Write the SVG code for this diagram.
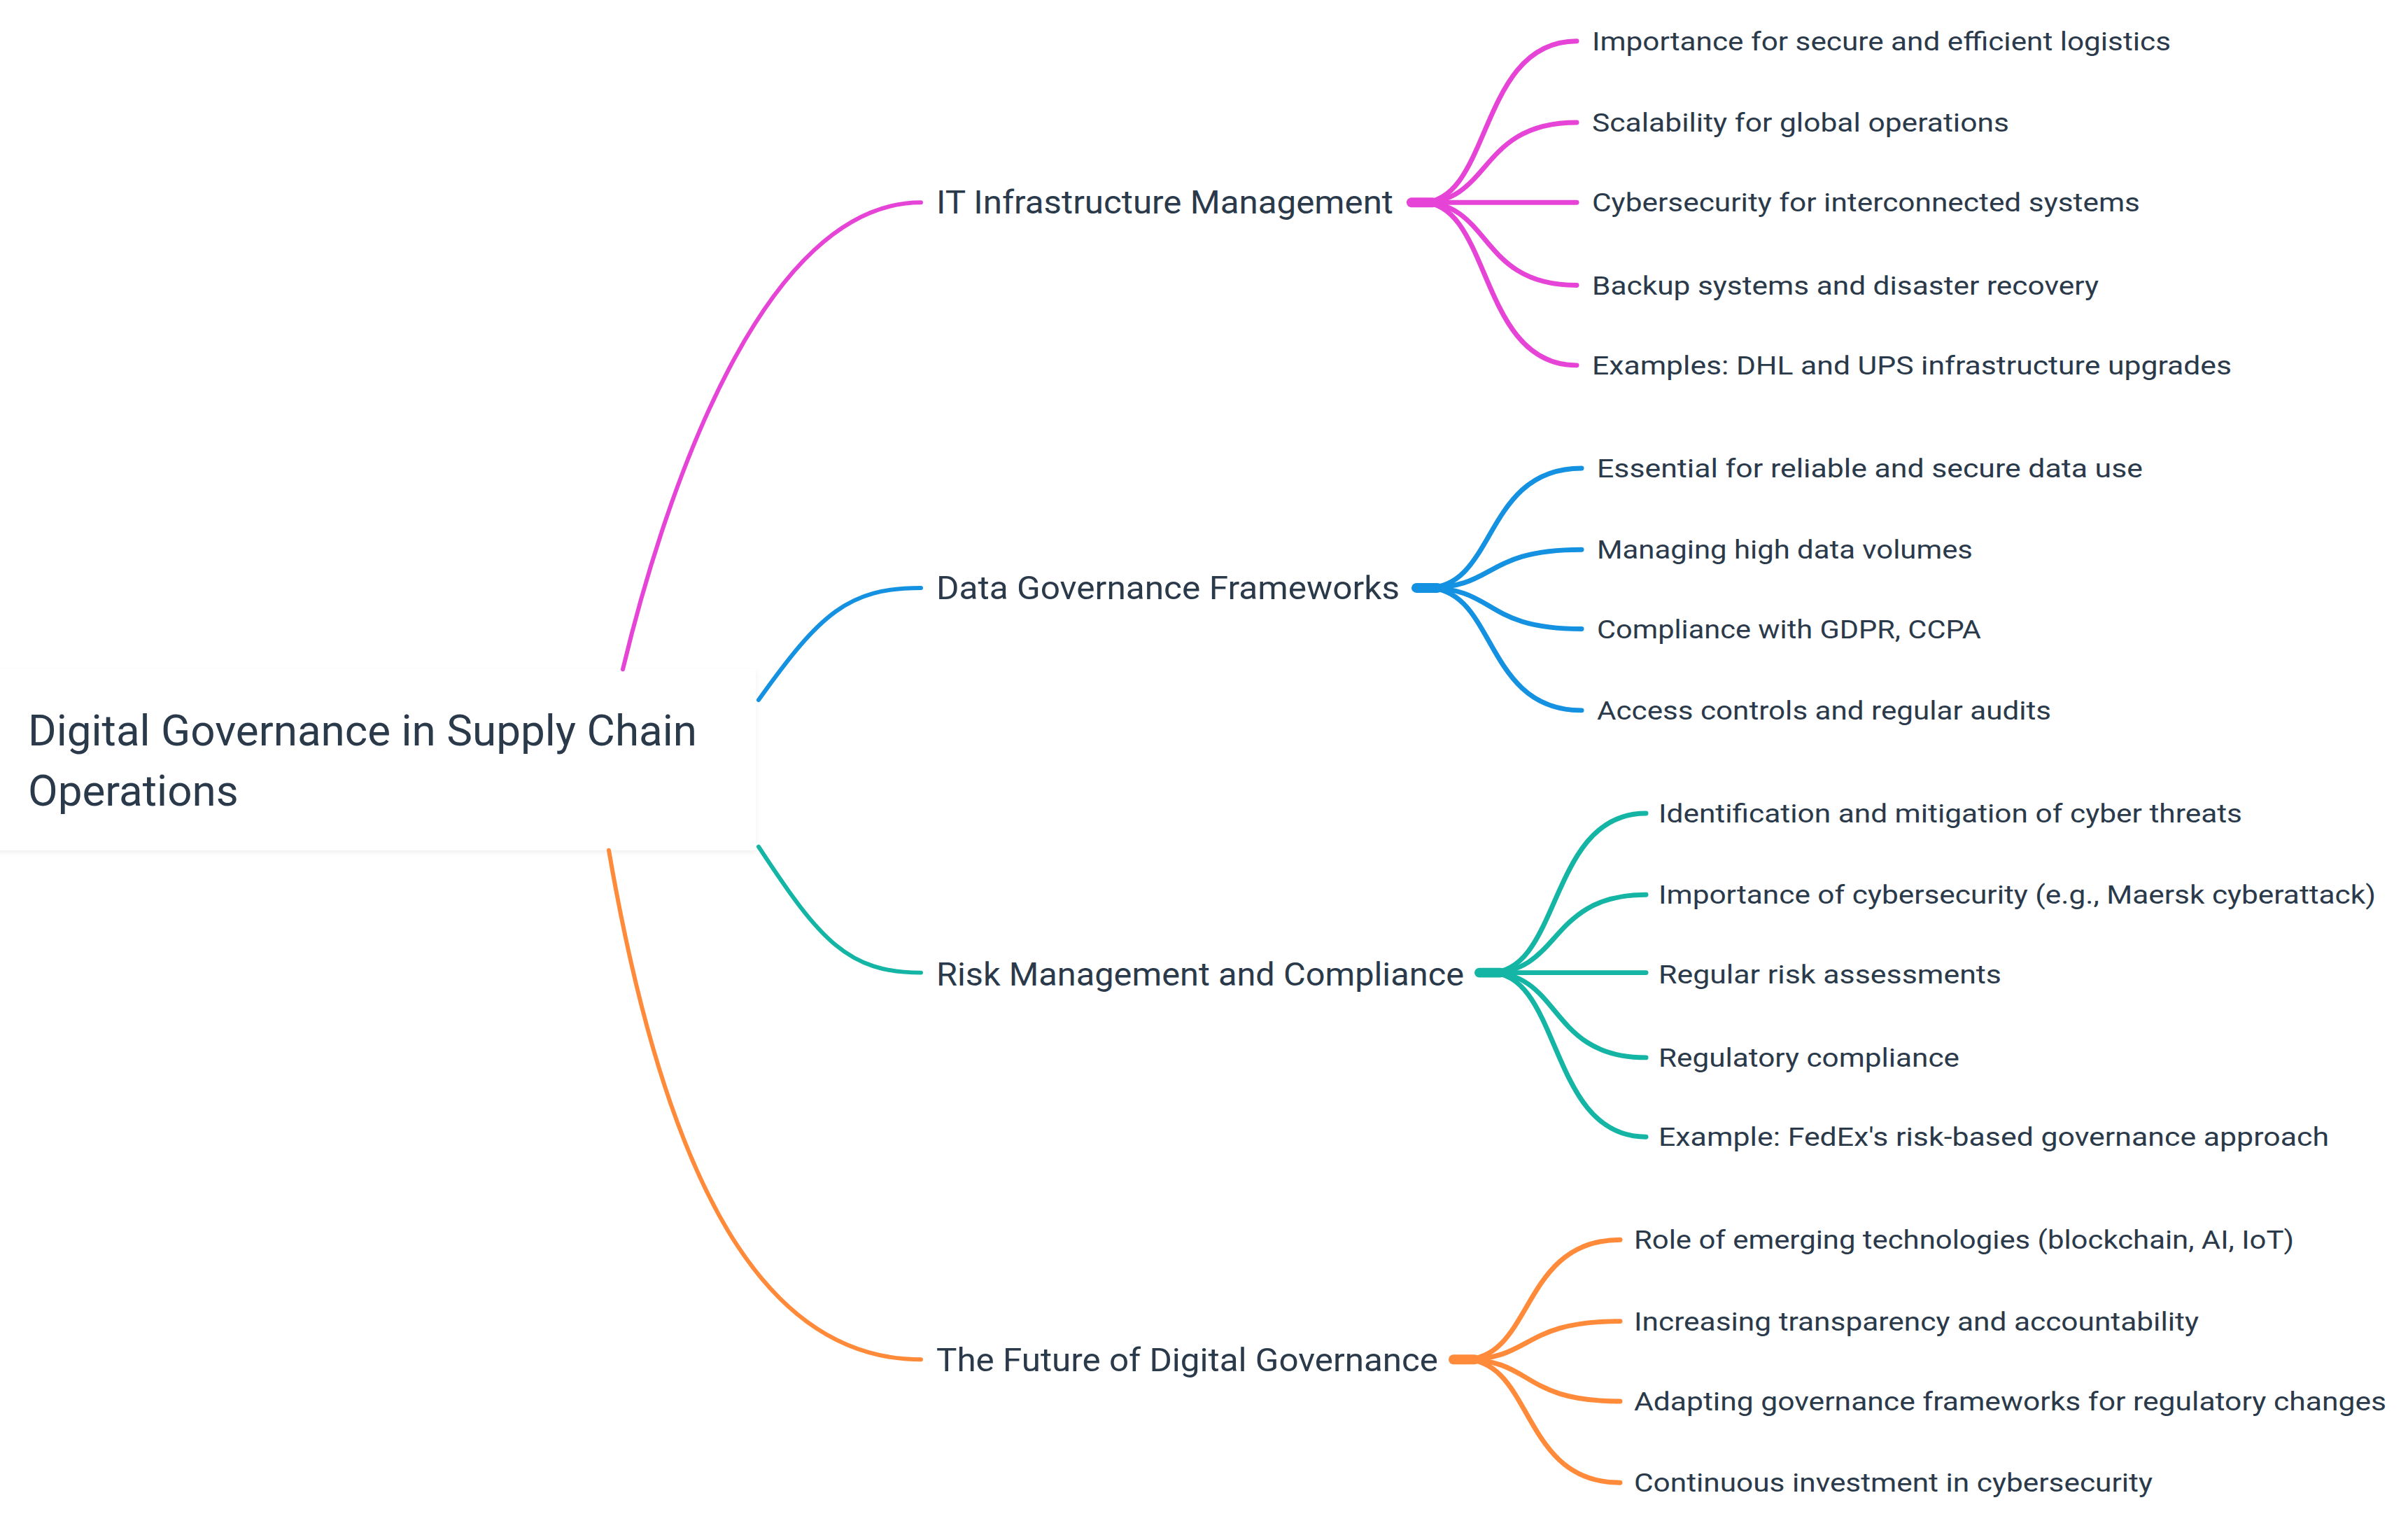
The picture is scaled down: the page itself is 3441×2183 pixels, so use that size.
<svg xmlns="http://www.w3.org/2000/svg" width="3441" height="2183" viewBox="0 0 3441 2183">
<defs>
<filter id="sh" x="-5%" y="-5%" width="110%" height="115%"><feDropShadow dx="0" dy="3" stdDeviation="4" flood-color="#000" flood-opacity="0.06"/></filter>
</defs>
<style>
text{font-family:Roboto,"Liberation Sans",sans-serif;fill:#2b3a4a;dominant-baseline:central}
.root{font-size:62px}
.main{font-size:47px}
.leaf{font-size:38px}
.c path,.c line{fill:none;stroke-linecap:round}
.m{stroke-width:6}
.l{stroke-width:7}
.s{stroke-width:14}
.pk{stroke:#e544d6}.bl{stroke:#1491e0}.tl{stroke:#14b5a4}.or{stroke:#ff8a3a}
</style>
<rect width="3441" height="2183" fill="#fff"/>
<g transform="translate(-8,2) scale(1,0.994)">
<g id="root"><rect x="0" y="960" width="1088" height="260" fill="#fff" filter="url(#sh)"/>
<text class="root" x="48" y="1048">Digital Governance in Supply Chain</text>
<text class="root" x="48" y="1135">Operations</text></g>
<g class="c" id="connectors">
<path class="m pk" d="M898 960 C960 700 1100 289 1324 289"/>
<path class="m bl" d="M1092 1004 C1180 880 1220 843 1324 843"/>
<path class="m tl" d="M1092 1215 C1180 1350 1220 1396 1324 1396"/>
<path class="m or" d="M878 1220 C960 1700 1100 1952 1324 1952"/>
<line class="s pk" x1="2025" y1="289" x2="2055" y2="289"/>
<path class="l pk" d="M2040 289 C2140 289 2120 57 2261 57"/>
<path class="l pk" d="M2040 289 C2140 289 2120 174 2261 174"/>
<path class="l pk" d="M2040 289 L2261 289"/>
<path class="l pk" d="M2040 289 C2140 289 2120 408 2261 408"/>
<path class="l pk" d="M2040 289 C2140 289 2120 523 2261 523"/>
<line class="s bl" x1="2032" y1="843" x2="2062" y2="843"/>
<path class="l bl" d="M2047 843 C2147 843 2127 671 2268 671"/>
<path class="l bl" d="M2047 843 C2147 843 2127 788 2268 788"/>
<path class="l bl" d="M2047 843 C2147 843 2127 902 2268 902"/>
<path class="l bl" d="M2047 843 C2147 843 2127 1019 2268 1019"/>
<line class="s tl" x1="2122" y1="1396" x2="2152" y2="1396"/>
<path class="l tl" d="M2137 1396 C2240 1396 2220 1167 2360 1167"/>
<path class="l tl" d="M2137 1396 C2240 1396 2220 1284 2360 1284"/>
<path class="l tl" d="M2137 1396 L2360 1396"/>
<path class="l tl" d="M2137 1396 C2240 1396 2220 1518 2360 1518"/>
<path class="l tl" d="M2137 1396 C2240 1396 2220 1632 2360 1632"/>
<line class="s or" x1="2085" y1="1952" x2="2115" y2="1952"/>
<path class="l or" d="M2100 1952 C2200 1952 2180 1780 2323 1780"/>
<path class="l or" d="M2100 1952 C2200 1952 2180 1897 2323 1897"/>
<path class="l or" d="M2100 1952 C2200 1952 2180 2012 2323 2012"/>
<path class="l or" d="M2100 1952 C2200 1952 2180 2129 2323 2129"/>
</g>
<g id="n1"><text class="main" x="1346" y="289" textLength="653" lengthAdjust="spacingAndGlyphs">IT Infrastructure Management</text></g>
<g id="n2"><text class="main" x="1346" y="843" textLength="662" lengthAdjust="spacingAndGlyphs">Data Governance Frameworks</text></g>
<g id="n3"><text class="main" x="1346" y="1398" textLength="754" lengthAdjust="spacingAndGlyphs">Risk Management and Compliance</text></g>
<g id="n4"><text class="main" x="1346" y="1953" textLength="717" lengthAdjust="spacingAndGlyphs">The Future of Digital Governance</text></g>
<g id="n1a"><text class="leaf" x="2283" y="57" textLength="827" lengthAdjust="spacingAndGlyphs">Importance for secure and efficient logistics</text></g>
<g id="n1b"><text class="leaf" x="2283" y="174" textLength="596" lengthAdjust="spacingAndGlyphs">Scalability for global operations</text></g>
<g id="n1c"><text class="leaf" x="2283" y="289" textLength="783" lengthAdjust="spacingAndGlyphs">Cybersecurity for interconnected systems</text></g>
<g id="n1d"><text class="leaf" x="2283" y="408" textLength="724" lengthAdjust="spacingAndGlyphs">Backup systems and disaster recovery</text></g>
<g id="n1e"><text class="leaf" x="2283" y="523" textLength="914" lengthAdjust="spacingAndGlyphs">Examples: DHL and UPS infrastructure upgrades</text></g>
<g id="n2a"><text class="leaf" x="2290" y="671" textLength="780" lengthAdjust="spacingAndGlyphs">Essential for reliable and secure data use</text></g>
<g id="n2b"><text class="leaf" x="2290" y="788" textLength="537" lengthAdjust="spacingAndGlyphs">Managing high data volumes</text></g>
<g id="n2c"><text class="leaf" x="2290" y="902" textLength="549" lengthAdjust="spacingAndGlyphs">Compliance with GDPR, CCPA</text></g>
<g id="n2d"><text class="leaf" x="2290" y="1019" textLength="649" lengthAdjust="spacingAndGlyphs">Access controls and regular audits</text></g>
<g id="n3a"><text class="leaf" x="2378" y="1167" textLength="834" lengthAdjust="spacingAndGlyphs">Identification and mitigation of cyber threats</text></g>
<g id="n3b"><text class="leaf" x="2378" y="1284" textLength="1025" lengthAdjust="spacingAndGlyphs">Importance of cybersecurity (e.g., Maersk cyberattack)</text></g>
<g id="n3c"><text class="leaf" x="2378" y="1398" textLength="490" lengthAdjust="spacingAndGlyphs">Regular risk assessments</text></g>
<g id="n3d"><text class="leaf" x="2378" y="1518" textLength="430" lengthAdjust="spacingAndGlyphs">Regulatory compliance</text></g>
<g id="n3e"><text class="leaf" x="2378" y="1632" textLength="958" lengthAdjust="spacingAndGlyphs">Example: FedEx's risk-based governance approach</text></g>
<g id="n4a"><text class="leaf" x="2343" y="1780" textLength="943" lengthAdjust="spacingAndGlyphs">Role of emerging technologies (blockchain, AI, IoT)</text></g>
<g id="n4b"><text class="leaf" x="2343" y="1897" textLength="807" lengthAdjust="spacingAndGlyphs">Increasing transparency and accountability</text></g>
<g id="n4c"><text class="leaf" x="2343" y="2012" textLength="1075" lengthAdjust="spacingAndGlyphs">Adapting governance frameworks for regulatory changes</text></g>
<g id="n4d"><text class="leaf" x="2343" y="2129" textLength="741" lengthAdjust="spacingAndGlyphs">Continuous investment in cybersecurity</text></g>
</g>
</svg>
